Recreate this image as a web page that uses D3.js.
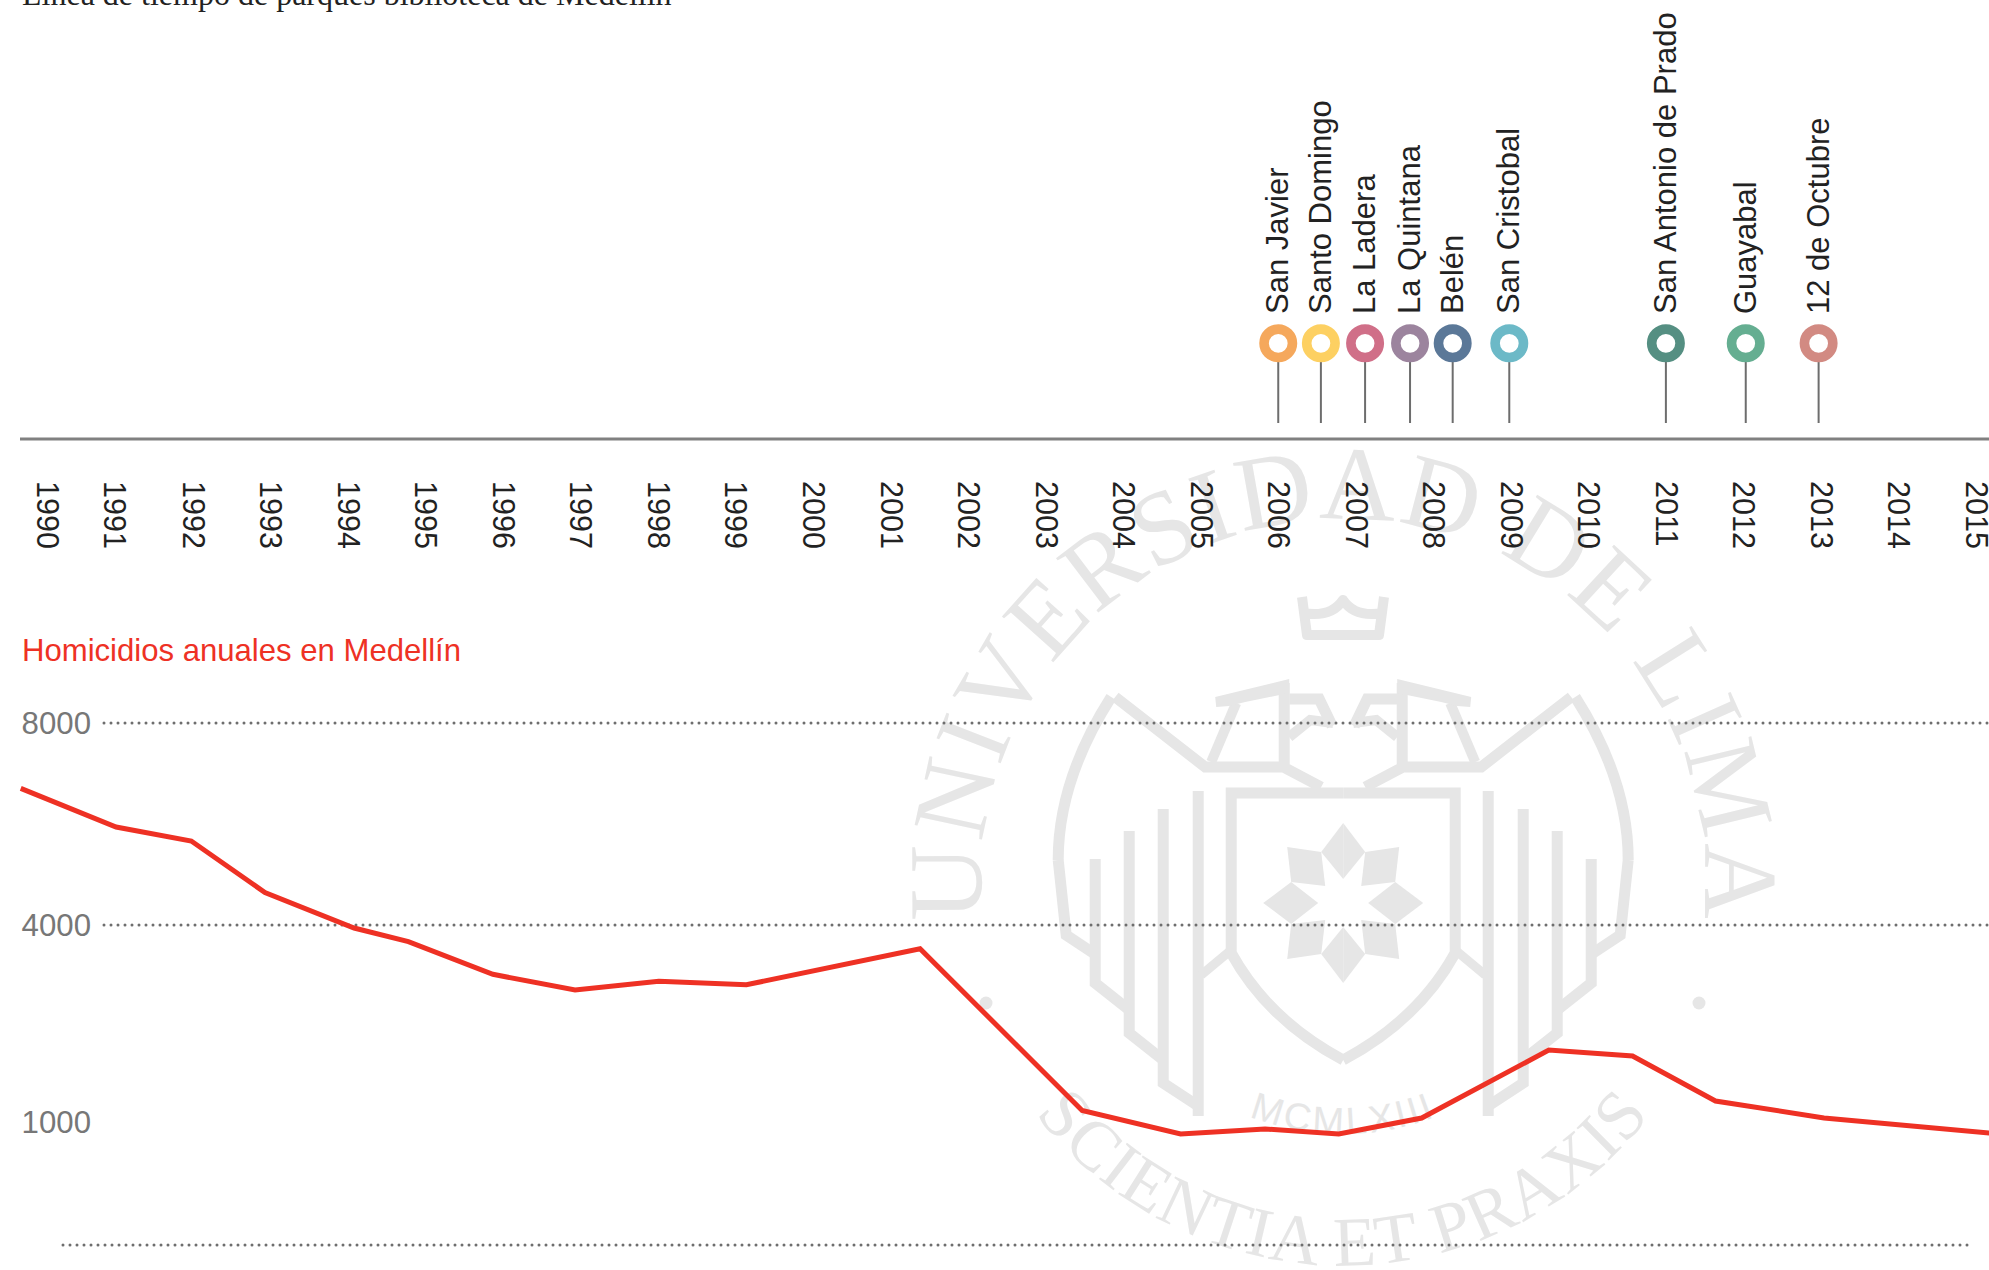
<!DOCTYPE html>
<html>
<head>
<meta charset="utf-8">
<script src="https://cdn.jsdelivr.net/npm/d3@7"></script>
<style>
  html, body { margin: 0; padding: 0; background: #fff; overflow: hidden; }
  svg { display: block; }
  text { font-family: "Liberation Sans", Arial, sans-serif; }
  .seal { fill: none; stroke: #e6e6e6; stroke-linejoin: miter; }
  .seal-fill { fill: #e6e6e6; stroke: none; }
  .seal-text { fill: #e6e6e6; font-family: "Liberation Serif", serif; }
  .grid { stroke: #6e6e6e; stroke-width: 3; stroke-dasharray: 0 7; stroke-linecap: round; }
</style>
</head>
<body>
<div id="vis-container"></div>
<script>
// Data
const timelineTitle = "Línea de tiempo de parques biblioteca de Medellín";
const homicideTitle = "Homicidios anuales en Medellín";

// tick position in years, the 1990 label sits a little to the right in the original
const yearTicks = [1990.12, 1990.98, 1992, 1993, 1994, 1995, 1996, 1997, 1998, 1999, 2000, 2001, 2002,
                   2003, 2004, 2005, 2006, 2007, 2008, 2009, 2010, 2011, 2012, 2013, 2014, 2015];

const parkNames = ["San Javier", "Santo Domingo", "La Ladera", "La Quintana", "Belén", "San Cristobal",
                   "San Antonio de Prado", "Guayabal", "12 de Octubre"];
const parkYears = [2006.0, 2006.55, 2007.12, 2007.7, 2008.25, 2008.98, 2011.0, 2012.03, 2012.97];
const parkColors = ["#f5a85c", "#fdd062", "#d06f88", "#9c849e", "#5b7898", "#6cb9c7", "#558f82", "#65ae91", "#d28a82"];

// the line's vertices are hand placed in the original, so they do not fall on whole years
const homicideYears = [1989.78, 1991.01, 1991.98, 1992.93, 1994.08, 1994.78, 1995.87, 1996.93, 1998.01, 1999.14,
                       2001.38, 2003.47, 2004.74, 2005.83, 2006.78, 2007.85, 2009.49, 2010.57, 2011.64, 2013.04, 2015.17];
const homicides = [6705, 5941, 5663, 4642, 3954, 3746, 3249, 3010, 3143, 3090,
                   3639, 1175, 902, 943, 902, 1061, 2096, 2005, 1320, 1061, 910];

const yTickValues = [8000, 4000, 1000];
const gridValues = [8000, 4000];

let width = 1989;
let height = 1270;

let svg = d3.select("#vis-container").append("svg").attr("width", width).attr("height", height);

// Scales. The y axis of the original is not linear, so it gets one segment per tick
let x = d3.scaleLinear().domain([1990, 2015]).range([37.8, 1976]);
let y = d3.scaleLinear().domain([0, 1000, 4000, 8000]).range([1245, 1122, 925, 723]);

// Watermark seal, drawn first so everything else stays on top
let seal = svg.append("g");
const cx = 1343.2;
const ringY = 875;
let defs = svg.append("defs");

// top ring runs a bit past the horizontal on both sides
const topR = 362;
const topDrop = 50;
const topHalf = Math.sqrt(topR * topR - topDrop * topDrop);
defs.append("path").attr("id", "arcTop")
    .attr("d", `M ${cx - topHalf} ${ringY + 6 + topDrop} A ${topR} ${topR} 0 1 1 ${cx + topHalf} ${ringY + 6 + topDrop}`);
defs.append("path").attr("id", "arcBottom")
    .attr("d", `M ${cx - 345} ${ringY + 180} A 388 388 0 0 0 ${cx + 345} ${ringY + 180}`);
defs.append("path").attr("id", "arcYear")
    .attr("d", `M ${cx - 130} ${ringY + 224} A 259 259 0 0 0 ${cx + 130} ${ringY + 224}`);

seal.append("text").attr("class", "seal-text").style("font-size", "105px").style("letter-spacing", "2px")
    .append("textPath").attr("href", "#arcTop").attr("startOffset", "50%").attr("text-anchor", "middle")
    .text("UNIVERSIDAD DE LIMA");
seal.append("text").attr("class", "seal-text").style("font-size", "70px").style("letter-spacing", "1.5px")
    .append("textPath").attr("href", "#arcBottom").attr("startOffset", "50%").attr("text-anchor", "middle")
    .text("SCIENTIA ET PRAXIS");
seal.append("text").attr("class", "seal-text").style("font-size", "38px").style("font-family", "Liberation Sans").style("letter-spacing", "3px")
    .append("textPath").attr("href", "#arcYear").attr("startOffset", "50%").attr("text-anchor", "middle")
    .text("MCMLXIII");

seal.selectAll("circle.dot").data([986, 1699]).enter().append("circle")
    .attr("class", "seal-fill").attr("cx", d => d).attr("cy", 1003).attr("r", 6.5);

let pathLine = d3.line();

// crown
seal.append("path").attr("class", "seal").attr("stroke-width", 10).attr("stroke-linejoin", "round")
    .style("stroke-linejoin", "round")
    .attr("d", "M1302 597 L1307 635 L1379 635 L1384 597 M1303 613 Q1331 618 1343 600 Q1355 618 1383 613");

// one half of the shield and wings, used twice with a mirror
const halves = [1, -1];
halves.forEach(side => {
    let half = seal.append("g").attr("transform", `translate(${cx},0) scale(${side},1)`);
    const strokes = [
        { w: 11, pts: [[-250, 953], [-277, 935], [-285, 860]] },
        { w: 11, pts: [[-59, 764], [-59, 683]] },
        { w: 10, pts: [[-107, 703], [-132, 762]] },
        { w: 11, pts: [[-22, 787], [-60, 767], [-138, 767], [-228, 697]] },
        { w: 11, pts: [[-54, 699], [-24, 699], [-11, 726]] },
        { w: 10, pts: [[-54, 737], [-33, 720], [-10, 723]] },
        { w: 11, pts: [[-248, 859], [-248, 983], [-214, 1010]] },
        { w: 11, pts: [[-214, 831], [-214, 1033], [-180, 1060]] },
        { w: 11, pts: [[-180, 809], [-180, 1083], [-145, 1106]] },
        { w: 11, pts: [[-145, 791], [-145, 1116]] },
        { w: 9, pts: [[-142, 975], [-112, 950]] }
    ];
    half.selectAll("path.st").data(strokes).enter().append("path")
        .attr("class", "seal st").attr("stroke-width", d => d.w).attr("d", d => pathLine(d.pts));

    // wing arc and shield outline
    half.append("path").attr("class", "seal").attr("stroke-width", 11)
        .attr("d", "M-285 860 Q-285 780 -232 697");
    half.append("path").attr("class", "seal").attr("stroke-width", 11)
        .attr("d", "M0 793 L-112 793 L-112 953 Q-75 1020 0 1060");

    const polys = [
        [[-128, 697], [-54, 679], [-54, 693], [-98, 702], [-114, 706], [-127, 707]],
        [[-80, 903], [-52, 882], [-25, 903], [-52, 924]],
        [[-56, 847], [-22, 852], [-18, 886], [-52, 882]],
        [[-56, 959], [-22, 954], [-18, 920], [-52, 924]],
        [[0, 823], [-22, 852], [0, 879]],
        [[0, 983], [-22, 954], [0, 927]]
    ];
    half.selectAll("path.pl").data(polys).enter().append("path")
        .attr("class", "seal-fill pl").attr("d", d => pathLine(d) + "Z");
});

// Top title, cut by the top edge as in the picture
svg.append("text").attr("x", 22).attr("y", 5)
    .style("font-family", "'Liberation Serif', serif").style("font-size", "32px").style("fill", "#222")
    .text(timelineTitle);

// Timeline rule and year axis
svg.append("line").attr("x1", 20).attr("x2", width).attr("y1", 439).attr("y2", 439)
    .attr("stroke", "#808080").attr("stroke-width", 3);

let xAxis = svg.append("g").attr("transform", "translate(1,481)")
    .call(d3.axisBottom(x).tickValues(yearTicks).tickSize(0).tickFormat(d => String(Math.round(d - 0.12))));
xAxis.select(".domain").remove();
xAxis.selectAll("text")
    .attr("transform", "rotate(90)").attr("x", 0).attr("y", 0).attr("dy", "0.38em")
    .attr("text-anchor", "start")
    .style("font-size", "30.5px").style("fill", "#222").style("font-family", "'Liberation Sans', sans-serif");

// Park pins
let pins = svg.append("g").selectAll("g").data(parkNames).enter().append("g")
    .attr("transform", (d, i) => `translate(${x(parkYears[i])},0)`);
pins.append("line").attr("y1", 362).attr("y2", 423).attr("stroke", "#6d6d6d").attr("stroke-width", 2);
pins.append("circle").attr("cy", 343.3).attr("r", 14.2).attr("fill", "#fff")
    .attr("stroke", (d, i) => parkColors[i]).attr("stroke-width", 9.6);
pins.append("text").attr("transform", "translate(0,314) rotate(-90)")
    .attr("y", 10)
    .style("font-size", "31px").style("fill", "#222")
    .text(d => d);

// Homicide chart
svg.append("text").attr("x", 22).attr("y", 661)
    .style("font-size", "31.1px").style("fill", "#ee3124")
    .text(homicideTitle);

svg.selectAll("line.grid").data(gridValues).enter().append("line")
    .attr("class", "grid").attr("x1", 104).attr("x2", width)
    .attr("y1", d => y(d)).attr("y2", d => y(d));
svg.append("line").attr("class", "grid").attr("x1", 63).attr("x2", 1973)
    .attr("y1", y(0)).attr("y2", y(0));

let yAxis = svg.append("g").attr("transform", "translate(102,1)")
    .call(d3.axisLeft(y).tickValues(yTickValues).tickSize(0).tickPadding(11).tickFormat(d3.format("d")));
yAxis.select(".domain").remove();
yAxis.selectAll("text").style("font-size", "31.2px").style("fill", "#777").style("font-family", "'Liberation Sans', sans-serif");

let lineGenerator = d3.line()
    .x((d, i) => x(homicideYears[i]))
    .y(d => y(d));

svg.append("path").attr("d", lineGenerator(homicides))
    .attr("fill", "none").attr("stroke", "#ee3124").attr("stroke-width", 5);
</script>
</body>
</html>
